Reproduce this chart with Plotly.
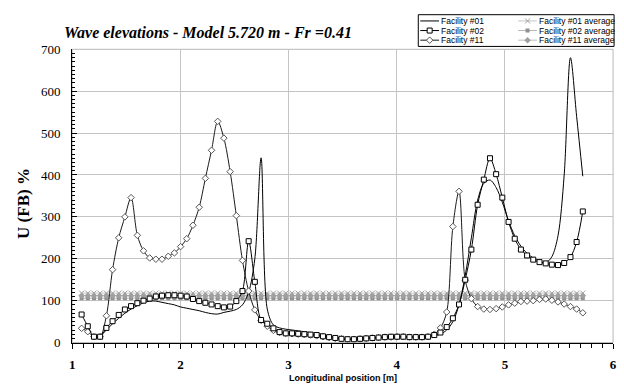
import plotly.graph_objects as go

# Longitudinal stations along the model [m]
positions = [
    1.087, 1.144, 1.201, 1.258, 1.316, 1.373, 1.430, 1.487, 1.544, 1.602,
    1.659, 1.716, 1.773, 1.830, 1.888, 1.945, 2.002, 2.059, 2.116, 2.174,
    2.231, 2.288, 2.345, 2.402, 2.460, 2.517, 2.574, 2.631, 2.688, 2.746,
    2.803, 2.860, 2.917, 2.974, 3.032, 3.089, 3.146, 3.203, 3.260, 3.318,
    3.375, 3.432, 3.489, 3.546, 3.604, 3.661, 3.718, 3.775, 3.832, 3.890,
    3.947, 4.004, 4.061, 4.118, 4.176, 4.233, 4.290, 4.347, 4.404, 4.462,
    4.519, 4.576, 4.633, 4.690, 4.748, 4.805, 4.862, 4.919, 4.976, 5.034,
    5.091, 5.148, 5.205, 5.262, 5.320, 5.377, 5.434, 5.491, 5.548, 5.606,
    5.663, 5.720,
]

# U(FB) % per facility at each station
facility_01 = [
    None, None, 14, 16, 30, 45, 58, 70, 80, 88,
    95, 99, 99, 96, 93, 90, 85, 82, 79, 76,
    72, 69, 68, 72, 75, 79, 90, 120, 200, 441,
    80, 42, 35, 32, 30, 28, 26, 24, 22, 19,
    16, 13, 11, 10, 10, 11, 12, 13, 13, 14,
    14, 14, 14, 14, 14, 14, 15, 16, 20, 30,
    50, 90, 160, 250, 340, 380, 388, 370, 335, 290,
    255, 230, 213, 202, 195, 190, 205, 255, 400, 680,
    540, 397,
]
facility_02 = [
    67, 39, 14, 14, 35, 51, 66, 79, 87, 94,
    100, 105, 110, 112, 113, 113, 112, 110, 104, 99,
    95, 91, 87, 84, 86, 99, 123, 242, 145, 54,
    45, 34, 25, 22, 22, 21, 20, 19, 18, 15,
    13, 11, 9, 8, 8, 9, 10, 11, 12, 13,
    14, 14, 14, 13, 13, 13, 14, 18, 24, 37,
    58, 91, 150, 222, 329, 389, 440, 402, 346, 288,
    248, 222, 208, 198, 192, 189, 186, 185, 190, 204,
    240, 313,
]
facility_11 = [
    34, 26, 14, 14, 64, 174, 250, 300, 346, 256,
    219, 202, 199, 199, 206, 214, 229, 248, 280, 323,
    392, 459, 528, 488, 408, 303, 196, 123, 78, 53,
    39, 29, 24, 22, 21, 20, 19, 18, 16, 14,
    12, 10, 9, 8, 8, 9, 10, 11, 12, 13,
    13, 14, 14, 13, 13, 13, 14, 20, 35, 73,
    277, 361, 149, 105, 86, 80, 79, 81, 85, 90,
    94, 98, 99, 100, 103, 104, 101, 97, 92, 86,
    80, 71,
]

# Mean U(FB) % of each facility
average_01 = 118
average_02 = 106
average_11 = 112

W, H = 624, 390
# plot area in pixels
PL, PR, PT, PB = 70, 617, 44, 349

SQUARE = dict(symbol="square", size=5, color="white", line=dict(color="#000000", width=1))
DIAMOND = dict(symbol="diamond", size=5, color="white", line=dict(color="#555555", width=1))

fig = go.Figure()

avg_styles = [
    ("Facility #01 average", average_01, "#c4c4c4",
     dict(symbol="x-thin", size=5, color="#a0a0a0", line=dict(color="#a0a0a0", width=1))),
    ("Facility #02 average", average_02, "#b4b4b4",
     dict(symbol="square", size=4, color="#909090")),
    ("Facility #11 average", average_11, "#bcbcbc",
     dict(symbol="diamond", size=5, color="#a0a0a0")),
]
for name, val, lc, mk in avg_styles:
    fig.add_trace(go.Scatter(
        x=positions, y=[val] * len(positions), mode="lines+markers", name=name,
        line=dict(color=lc, width=1), marker=mk, showlegend=False,
    ))

main_styles = [
    ("Facility #01", facility_01, "#000000", None),
    ("Facility #11", facility_11, "#1a1a1a", DIAMOND),
    ("Facility #02", facility_02, "#000000", SQUARE),
]
for name, vals, lc, mk in main_styles:
    fig.add_trace(go.Scatter(
        x=positions, y=vals, mode="lines+markers" if mk else "lines", name=name,
        line=dict(color=lc, width=1, shape="spline", smoothing=0.9),
        marker=mk, connectgaps=False, showlegend=False,
    ))

# Legend keys drawn on a small auxiliary axis pair (pixel units)
LX0, LX1, LY0, LY1 = 420, 618, 8, 41
legend_items = [
    ("Facility #01", "#000000", None, 0, 0),
    ("Facility #02", "#000000", SQUARE, 0, 1),
    ("Facility #11", "#1a1a1a", DIAMOND, 0, 2),
    ("Facility #01 average", "#c4c4c4", avg_styles[0][3], 1, 0),
    ("Facility #02 average", "#b4b4b4", avg_styles[1][3], 1, 1),
    ("Facility #11 average", "#bcbcbc", avg_styles[2][3], 1, 2),
]
col_x = [2, 101]
row_y = [LY1 - LY0 - 6.5, LY1 - LY0 - 16.5, LY1 - LY0 - 26.5]
for name, lc, mk, col, row in legend_items:
    x0 = col_x[col]
    y = row_y[row]
    fig.add_trace(go.Scatter(
        x=[x0, x0 + 19], y=[y, y], mode="lines",
        line=dict(color=lc, width=1), xaxis="x2", yaxis="y2",
        showlegend=False, hoverinfo="skip",
    ))
    if mk is not None:
        fig.add_trace(go.Scatter(
            x=[x0 + 9.5], y=[y], mode="markers", marker=mk,
            xaxis="x2", yaxis="y2", showlegend=False, hoverinfo="skip",
        ))
    fig.add_annotation(
        x=x0 + 20, y=y, xref="x2", yref="y2", text=name, showarrow=False,
        xanchor="left", yanchor="middle", borderpad=0,
        font=dict(family="Liberation Sans, Arial", size=8.5, color="#000"),
    )

fig.add_shape(type="rect", xref="paper", yref="paper",
              x0=LX0 / W, x1=LX1 / W, y0=1 - LY1 / H, y1=1 - LY0 / H,
              line=dict(color="#000", width=1))
# plot frame
fig.add_shape(type="rect", xref="paper", yref="paper",
              x0=PL / W, x1=PR / W, y0=1 - PB / H, y1=1 - PT / H,
              line=dict(color="#b8b8b8", width=1), layer="below")

serif = "Liberation Serif, Times New Roman, serif"
sans = "Liberation Sans, Arial, sans-serif"

fig.add_annotation(
    x=60 / W, y=1 - 27 / H, xref="paper", yref="paper", xanchor="left", yanchor="middle",
    text="<b><i>Wave elevations - Model 5.720 m - Fr =0.41</i></b>", showarrow=False,
    font=dict(family=serif, size=16, color="#000"),
)
fig.add_annotation(
    x=20 / W, y=1 - 204 / H, xref="paper", yref="paper", xanchor="center", yanchor="middle",
    text="<b>U (FB) %</b>", textangle=-90, showarrow=False,
    font=dict(family=serif, size=17, color="#000"),
)
fig.add_annotation(
    x=(PL + PR) / 2 / W, y=1 - 386 / H, xref="paper", yref="paper", xanchor="center",
    yanchor="middle", text="<b>Longitudinal position [m]</b>", showarrow=False,
    font=dict(family=sans, size=9, color="#000"),
)

fig.update_layout(
    width=W, height=H, margin=dict(l=0, r=0, t=0, b=0),
    paper_bgcolor="white", plot_bgcolor="white", showlegend=False,
    xaxis=dict(
        domain=[PL / W, PR / W], range=[1, 6], dtick=1, tick0=1,
        showline=True, linecolor="#000", linewidth=1,
        ticks="outside", ticklen=5, tickcolor="#000",
        showgrid=True, gridcolor="#c4c4c4", gridwidth=1, zeroline=False,
        tickfont=dict(family=serif, size=13, color="#000", weight="bold"),
        ticklabelstandoff=5,
        minor=dict(dtick=0.1, ticks="outside", ticklen=4, tickcolor="#000", showgrid=False),
        anchor="y",
    ),
    yaxis=dict(
        domain=[1 - PB / H, 1 - PT / H], range=[0, 700], dtick=100,
        showline=True, linecolor="#000", linewidth=1,
        ticks="inside", ticklen=5, tickcolor="#000",
        showgrid=True, gridcolor="#c4c4c4", gridwidth=1, zeroline=False,
        tickfont=dict(family=serif, size=13, color="#000"),
        ticklabelstandoff=8,
        minor=dict(dtick=10, ticks="inside", ticklen=3, tickcolor="#000", showgrid=False),
        anchor="x",
    ),
    xaxis2=dict(domain=[LX0 / W, LX1 / W], range=[0, LX1 - LX0], visible=False,
                fixedrange=True, anchor="y2"),
    yaxis2=dict(domain=[1 - LY1 / H, 1 - LY0 / H], range=[0, LY1 - LY0], visible=False,
                fixedrange=True, anchor="x2"),
)

fig.write_html("out.html")
